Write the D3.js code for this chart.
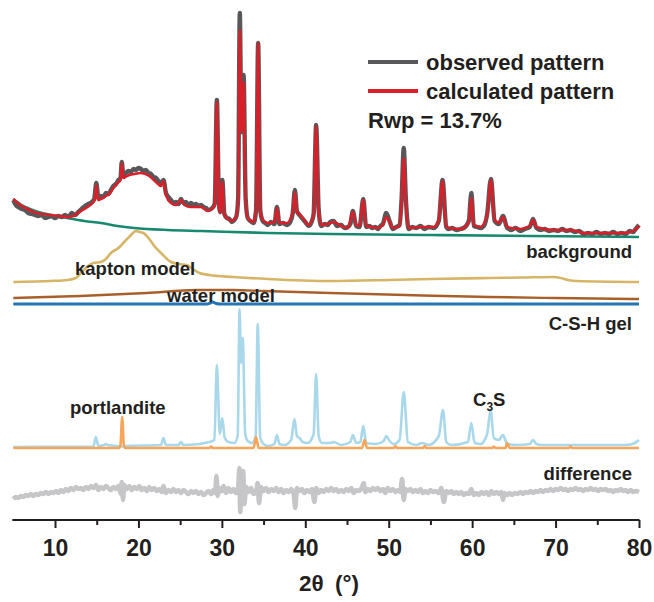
<!DOCTYPE html>
<html>
<head>
<meta charset="utf-8">
<script src="https://cdn.jsdelivr.net/npm/d3@7"></script>
<style>
    body { margin: 0; background: #fff; }
    text { font-family: "Liberation Sans", Arial, sans-serif; font-weight: bold; fill: #231f20; }
</style>
</head>
<body>
<div id="chart"></div>
<script>
// ---- data: [2theta, intensity above the curve's own baseline] ----
let observed = [[5.0,40],[5.3,35],[5.6,33],[6.0,31],[6.4,30],[6.8,27],[7.2,26],[7.6,25],[8.0,24],[8.4,25],[8.8,22],[9.2,23],[9.6,24],[10.0,22],[10.4,24],[10.8,23],[11.2,25],[11.6,23],[12.0,27],[12.4,25],[12.8,28],[13.2,31],[13.6,34],[14.0,36],[14.4,38],[14.7,41],[14.95,57],[15.2,42],[15.5,44],[15.8,43],[16.1,47],[16.4,46],[16.7,50],[17.0,54],[17.3,56],[17.6,60],[17.85,62],[18.0,78],[18.2,64],[18.5,67],[18.8,69],[19.1,68],[19.4,71],[19.7,70],[20.0,72],[20.3,71],[20.6,69],[20.9,70],[21.2,67],[21.5,66],[21.8,63],[22.1,62],[22.4,59],[22.7,57],[23.0,60],[23.3,47],[23.6,43],[23.9,40],[24.2,37],[24.5,38],[24.8,36],[25.1,41],[25.4,37],[25.7,38],[26.0,35],[26.3,37],[26.6,35],[26.9,36],[27.2,34],[27.5,35],[27.8,33],[28.1,32],[28.4,30],[28.7,31],[28.95,33],[29.15,37],[29.4,140],[29.65,37],[29.8,28],[30.05,60],[30.3,26],[30.6,22],[30.9,21],[31.2,18],[31.5,20],[31.75,24],[31.95,42],[32.15,227],[32.3,130],[32.38,108],[32.6,165],[32.85,42],[33.1,22],[33.4,19],[33.8,17],[34.1,30],[34.35,197],[34.6,30],[34.9,19],[35.2,17],[35.5,15],[35.9,18],[36.3,16],[36.6,33],[36.9,16],[37.3,17],[37.8,15],[38.2,18],[38.5,27],[38.75,50],[39.0,29],[39.3,25],[39.7,21],[40.0,18],[40.4,14],[40.7,17],[41.0,26],[41.3,115],[41.6,31],[41.9,14],[42.3,16],[42.7,15],[43.0,18],[43.4,19],[43.8,14],[44.3,15],[44.7,12],[45.1,13],[45.4,16],[45.7,29],[46.1,14],[46.5,13],[46.95,41],[47.3,13],[47.7,14],[48.0,12],[48.4,13],[48.7,11],[49.0,14],[49.3,16],[49.7,27],[50.1,19],[50.5,11],[50.9,13],[51.3,15],[51.55,42],[51.8,92],[52.05,42],[52.4,11],[52.8,13],[53.3,12],[53.8,14],[54.3,11],[54.8,13],[55.4,12],[56.0,19],[56.45,60],[56.9,13],[57.2,11],[57.6,12],[58.1,10],[58.6,11],[59.0,12],[59.6,19],[59.9,47],[60.2,14],[60.6,13],[61.0,12],[61.4,14],[61.8,26],[62.25,61],[62.7,19],[63.2,16],[63.7,24],[64.2,12],[64.7,10],[65.2,12],[65.8,9],[66.3,11],[66.9,13],[67.3,21],[67.7,12],[68.2,10],[68.7,11],[69.2,9],[69.8,10],[70.3,9],[70.8,11],[71.3,9],[71.8,10],[72.3,8],[72.8,9],[73.4,6],[73.9,7],[74.4,6],[74.9,8],[75.4,6],[75.9,7],[76.4,6],[76.9,8],[77.4,6],[77.9,7],[78.4,6],[78.9,9],[79.3,8],[79.6,11],[80.0,15]];

let calculated = [[5.0,41],[5.5,37],[6.5,32],[7.5,28],[8.5,26],[9.5,25],[10.5,24],[11.5,23],[12.2,24],[12.7,27],[13.3,30],[13.9,33],[14.5,37],[14.75,40],[14.95,55],[15.15,40],[15.5,41],[16.1,44],[16.5,46],[17.0,52],[17.5,57],[17.85,60],[18.0,77],[18.2,62],[18.6,64],[19.5,66],[20.3,67],[21.3,64],[22.1,58],[22.7,54],[23.0,59],[23.3,45],[23.9,37],[24.5,35],[25.1,40],[25.5,35],[26.3,33],[27.5,33],[28.3,29],[28.9,32],[29.15,35],[29.4,138],[29.65,35],[29.8,27],[30.05,58],[30.3,25],[30.6,22],[31.1,19],[31.7,23],[31.95,40],[32.15,210],[32.38,108],[32.6,158],[32.85,40],[33.1,22],[33.8,18],[34.1,30],[34.35,197],[34.6,30],[34.9,20],[35.5,17],[36.3,18],[36.6,32],[36.9,17],[37.8,17],[38.5,28],[38.75,48],[39.0,28],[39.4,25],[39.7,22],[40.4,15],[41.0,25],[41.3,114],[41.6,30],[41.9,15],[43.0,17],[43.4,18],[44.3,14],[45.1,12],[45.7,28],[46.1,15],[46.5,14],[46.95,40],[47.3,14],[48.0,13],[48.7,12],[49.3,15],[49.7,23],[50.1,18],[50.5,12],[51.3,14],[51.55,40],[51.8,82],[52.05,40],[52.4,12],[53.8,13],[55.4,13],[56.0,20],[56.45,59],[56.9,14],[57.2,12],[58.6,11],[59.6,18],[59.9,42],[60.2,15],[61.0,13],[61.8,25],[62.25,60],[62.7,20],[63.2,17],[63.7,23],[64.2,13],[65.8,11],[66.9,14],[67.3,20],[67.7,13],[69.8,10],[71.8,10],[72.5,9],[73.4,7],[75.7,7],[77.8,7],[79.0,8],[79.5,10],[80.0,14]];

let background = [[5,41],[6,35],[7,31],[8,28],[9.5,25],[11.5,22],[13.5,19],[15.5,17],[17.5,14],[19.5,12],[23.5,10],[27.5,9],[35.5,7],[43,6],[55,5],[67,4],[80,3]];

let kapton = [[5,3],[9.5,4],[11.5,5],[12.5,7],[13.1,12],[13.8,18],[14.6,22],[15.5,23],[16.1,26],[16.7,32],[17.6,37],[18.3,43],[19.0,49],[19.7,54],[20.2,53],[20.6,52],[21.2,47],[22.0,38],[22.7,32],[23.9,23],[24.8,21],[25.8,20],[26.5,16],[27.3,12],[28.5,10],[31.4,8],[35.5,6],[43,4],[50,5],[55,6],[62,7],[66,7.5],[69.8,8],[70.6,7],[71.5,5],[72.5,4],[80,3]];

let water = [[5,2],[13,4],[21,7],[27,10],[31.4,10],[35,9],[43,7],[52,5],[62,3],[70,2],[80,1]];

let cshGel = [[5,2],[28.2,2],[28.6,3],[28.9,4],[29.3,2.5],[29.8,2],[80,2]];

let c3s = [[5,1],[14.6,1.5],[14.9,11],[15.2,2],[15.9,3],[16.1,4],[16.3,3],[17.5,2],[18,1.5],[18.5,2],[22.7,3],[23.0,10],[23.3,3],[24.8,3],[25.1,6],[25.4,3],[27.3,4],[27.9,5],[28.5,6],[29.1,8],[29.4,83],[29.75,14],[30.05,30],[30.35,10],[30.8,6],[31.5,5],[31.9,12],[32.12,139],[32.3,85],[32.5,110],[32.8,14],[33.1,7],[33.6,5],[34.05,12],[34.3,124],[34.6,10],[35.0,4],[35.5,2],[36.3,4],[36.6,13],[36.9,4],[37.5,3],[38.3,8],[38.7,29],[39.0,12],[39.3,10],[39.7,6],[40.3,5],[41.0,14],[41.3,74],[41.6,12],[42.0,5],[43.0,5],[43.4,6],[44.3,3],[45.4,6],[45.7,13],[46.1,5],[46.6,6],[46.95,22],[47.3,5],[48.5,4],[49.4,7],[49.7,12],[50.1,7],[50.6,4],[51.3,8],[51.8,56],[52.3,6],[53.3,3],[54,5],[54.8,3],[56.0,12],[56.5,38],[56.9,6],[57.5,3],[59.5,6],[59.9,25],[60.3,5],[61.0,4],[61.8,14],[62.2,38],[62.6,10],[63.2,8],[63.7,13],[64.2,4],[65.5,3],[66.9,4],[67.3,8],[67.7,4],[68.3,3],[69,3],[72,3],[75,3],[77.5,3],[78.5,3],[79.5,5],[80,8]];

let portlandite = [[5,0],[17.7,0],[17.85,3],[18.05,31],[18.25,3],[18.4,0],[28.5,0],[28.7,1.5],[28.9,0],[33.8,0],[34.1,11],[34.4,0],[46.8,0],[47.1,8],[47.4,0],[50.6,0],[50.8,2],[51,0],[54.1,0],[54.3,2],[54.5,0],[62.4,0],[62.6,1.5],[62.8,0],[64.0,0],[64.2,5],[64.5,0],[71.6,0],[71.8,1.5],[72,0],[80,0]];

let difference = [[5.0,-9],[5.3,-7],[5.6,-8],[5.9,-6],[6.2,-7],[6.5,-5],[6.8,-6],[7.1,-4],[7.4,-6],[7.7,-4],[8.0,-5],[8.3,-3],[8.6,-4],[8.9,-2],[9.2,-4],[9.5,-2],[9.8,-3],[10.1,-1],[10.4,-3],[10.7,0],[11.0,-2],[11.3,1],[11.6,-1],[11.9,2],[12.2,0],[12.5,3],[12.8,1],[13.1,2],[13.4,0],[13.7,3],[14.0,1],[14.3,4],[14.6,2],[14.9,5],[15.2,0],[15.5,3],[15.8,1],[16.1,4],[16.4,2],[16.7,0],[17.0,3],[17.3,1],[17.6,4],[17.9,-4],[18.0,8],[18.15,-10],[18.3,5],[18.6,1],[18.9,4],[19.2,0],[19.5,3],[19.8,1],[20.1,4],[20.4,0],[20.7,2],[21.0,-1],[21.3,3],[21.6,0],[21.9,2],[22.2,-1],[22.5,1],[22.8,-2],[23.0,4],[23.3,-3],[23.6,0],[23.9,-2],[24.2,1],[24.5,-2],[24.8,0],[25.1,-3],[25.4,0],[25.7,-2],[26.0,-4],[26.3,-1],[26.6,-3],[26.9,-1],[27.2,-4],[27.5,-2],[27.8,-5],[28.1,-3],[28.4,-1],[28.7,-4],[29.0,0],[29.2,-3],[29.35,14],[29.5,-6],[29.7,2],[30.0,-1],[30.2,4],[30.5,-3],[30.8,2],[31.1,-2],[31.4,1],[31.7,-3],[31.95,2],[32.1,22],[32.2,-22],[32.35,10],[32.55,19],[32.7,-14],[32.9,3],[33.2,-2],[33.5,2],[33.8,-4],[34.1,-2],[34.3,7],[34.45,-13],[34.7,3],[35.0,-1],[35.3,2],[35.6,-2],[35.9,1],[36.2,-1],[36.5,2],[36.8,-2],[37.1,1],[37.4,-3],[37.7,0],[38.0,-2],[38.3,1],[38.6,-4],[38.8,-18],[39.0,2],[39.3,-1],[39.6,1],[39.9,-3],[40.2,0],[40.5,-2],[40.8,1],[41.1,-12],[41.3,2],[41.6,-3],[41.9,0],[42.2,-2],[42.5,1],[42.8,-1],[43.1,2],[43.4,-1],[43.7,1],[44.0,-2],[44.3,0],[44.6,-2],[44.9,1],[45.2,-1],[45.5,2],[45.8,-3],[46.1,0],[46.4,-1],[46.8,3],[47.0,7],[47.2,-2],[47.5,1],[47.8,-1],[48.1,2],[48.4,0],[48.7,2],[49.0,-1],[49.3,1],[49.6,-3],[49.9,2],[50.2,-1],[50.5,1],[50.8,-2],[51.1,0],[51.4,-2],[51.6,11],[51.8,-10],[52.0,1],[52.3,-1],[52.6,1],[52.9,-2],[53.2,0],[53.5,-2],[53.8,1],[54.1,-3],[54.4,-1],[54.7,-3],[55.0,0],[55.3,-2],[55.6,-1],[56.0,-3],[56.3,2],[56.6,-12],[56.9,-1],[57.2,-3],[57.5,-1],[57.8,-4],[58.1,-2],[58.4,-4],[58.7,-2],[59.0,-5],[59.3,-3],[59.6,-4],[59.9,1],[60.2,-5],[60.5,-3],[60.8,-5],[61.1,-2],[61.4,-4],[61.7,-2],[62.0,-5],[62.3,-1],[62.6,-4],[62.9,-2],[63.2,-4],[63.5,-2],[63.7,-10],[63.9,-3],[64.2,-5],[64.5,-3],[64.8,-5],[65.1,-3],[65.4,-4],[65.8,-2],[66.1,-4],[66.4,-2],[66.7,-3],[67.0,-1],[67.3,-3],[67.6,-1],[67.9,-2],[68.2,0],[68.5,-2],[68.8,0],[69.1,-1],[69.4,1],[69.7,-1],[70.0,1],[70.3,0],[70.6,2],[70.9,0],[71.2,1],[71.5,-1],[71.8,1],[72.1,0],[72.4,2],[72.7,0],[73.0,1],[73.3,-1],[73.6,1],[73.9,0],[74.2,2],[74.5,0],[74.8,1],[75.1,-1],[75.4,1],[75.7,0],[76.0,1],[76.3,-1],[76.6,0],[76.9,-2],[77.2,0],[77.5,-1],[77.8,1],[78.1,-1],[78.4,0],[78.7,-2],[79.0,0],[79.3,-2],[79.6,-1],[80.0,-2]];

let xTicks = [10, 20, 30, 40, 50, 60, 70, 80];
let legendLabels = ["observed pattern", "calculated pattern"];
let rwpLabel = "Rwp = 13.7%";

/* * * * * * * * * * * * * *
*    class refinementVis   *
* * * * * * * * * * * * * */
class refinementVis {
    constructor(parentElement) {
        this.parentElement = parentElement;
        this.initVis();
    }

    initVis() {
        let vis = this;

        vis.width = 654;
        vis.height = 602;

        vis.svg = d3.select("#" + vis.parentElement).append("svg")
            .attr("width", vis.width)
            .attr("height", vis.height);

        vis.x = d3.scaleLinear().domain([5, 80]).range([13.3, 639]);
        vis.y = d3.scaleLinear().domain([0, 520]).range([520, 0]);

        // vertical offsets of the stacked curves (intensity units)
        vis.offsets = {top: 280, kapton: 235, water: 220, csh: 214, phase: 72, diff: 30};

        vis.updateVis();
    }

    drawCurve(data, offset, color, width) {
        let vis = this;
        let line = d3.line()
            .x(d => vis.x(d[0]))
            .y(d => vis.y(d[1] + offset))
            .curve(d3.curveMonotoneX);

        vis.svg.append("path")
            .datum(data)
            .attr("fill", "none")
            .attr("stroke", color)
            .attr("stroke-width", width)
            .attr("stroke-linejoin", "round")
            .attr("d", line);
    }

    label(text, x, y, anchor, size) {
        return this.svg.append("text")
            .attr("x", x)
            .attr("y", y)
            .attr("text-anchor", anchor)
            .style("font-size", size + "px")
            .text(text);
    }

    updateVis() {
        let vis = this;
        let o = vis.offsets;

        // difference & phases
        vis.drawCurve(difference, o.diff, "#c6c6c8", 4.6);
        vis.drawCurve(c3s, o.phase, "#a9d8eb", 2.6);
        vis.drawCurve(portlandite, o.phase, "#f6a55b", 2.6);

        // amorphous contributions
        vis.drawCurve(cshGel, o.csh, "#2375b3", 3);
        vis.drawCurve(water, o.water, "#a8602a", 2.4);
        vis.drawCurve(kapton, o.kapton, "#d7b566", 2.6);

        // observed / calculated / background
        vis.drawCurve(background, o.top, "#17896f", 2.6);
        vis.drawCurve(observed, o.top, "#58585a", 4.4);
        vis.drawCurve(calculated, o.top, "#d8202a", 2.6);

        // curve labels
        vis.label("background", 632, 258, "end", 18.5);
        vis.label("kapton model", 75, 274.5, "start", 18.5);
        vis.label("water model", 167, 302, "start", 18.5);
        vis.label("C-S-H gel", 632, 329.5, "end", 18.5);
        vis.label("portlandite", 70, 413.5, "start", 18.5);
        vis.label("difference", 632, 479.5, "end", 18.5);

        let c3sText = vis.label("C", 473, 406, "start", 18.5);
        c3sText.append("tspan").attr("dy", 5).style("font-size", "12px").text("3");
        c3sText.append("tspan").attr("dy", -5).text("S");

        // legend
        let legendColors = ["#58585a", "#d8202a"];
        legendLabels.forEach((d, i) => {
            let ly = 62 + i * 29;
            vis.svg.append("line")
                .attr("x1", 368).attr("x2", 418)
                .attr("y1", ly).attr("y2", ly)
                .attr("stroke", legendColors[i])
                .attr("stroke-width", 4);
            vis.label(d, 426, ly + 8, "start", 22);
        });
        vis.label(rwpLabel, 368, 128, "start", 22);

        // x axis
        let axis = vis.svg.append("g")
            .attr("transform", "translate(0,520)")
            .call(d3.axisBottom(vis.x)
                .tickValues(d3.range(10, 81, 5))
                .tickSize(0)
                .tickFormat(""));
        axis.select(".domain").remove();

        axis.append("line")
            .attr("x1", 12.3).attr("x2", 639.5)
            .attr("stroke", "#231f20").attr("stroke-width", 2.2);

        axis.selectAll(".tick line")
            .attr("stroke", "#231f20")
            .attr("stroke-width", 2)
            .attr("y2", d => xTicks.includes(d) ? 8 : 5);

        axis.selectAll(".tick")
            .filter(d => xTicks.includes(d))
            .append("text")
            .attr("y", 36)
            .attr("text-anchor", "middle")
            .style("font-size", "23px")
            .text(d => d);

        vis.label("2θ\u2002(°)", 329, 591, "middle", 22.5);
    }
}

new refinementVis("chart");
</script>
</body>
</html>
